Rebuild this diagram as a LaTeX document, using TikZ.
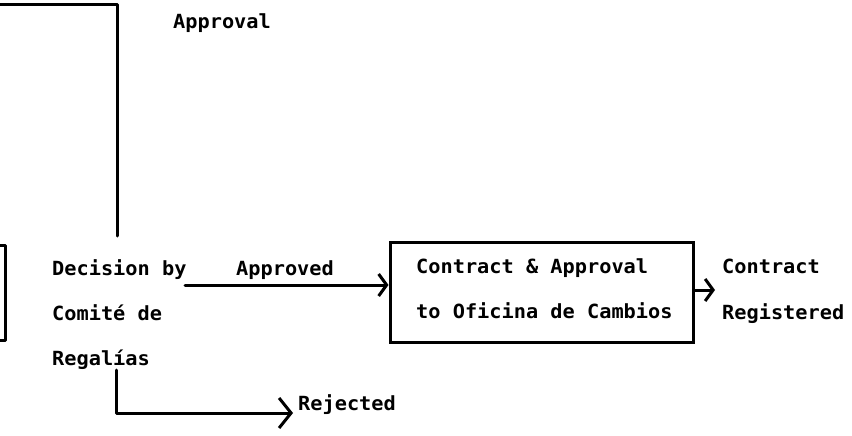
\documentclass[tikz,border=0pt]{standalone}
\usepackage{fontspec}
\setmonofont{DejaVu Sans Mono}[FakeStretch=1.04]
\usetikzlibrary{arrows.meta}
\begin{document}
\begin{tikzpicture}[x=1pt,y=-1pt,
  lbl/.style={font=\ttfamily\bfseries\fontsize{19.5}{22}\selectfont, anchor=base west, inner sep=0pt},
  conn/.style={line width=3pt, line cap=round, line join=round},
  barb/.style={-{Straight Barb[length=8pt,width=22pt,line width=3pt]}},
  boxst/.style={draw, line width=3pt, minimum width=303pt, minimum height=100pt, inner sep=0pt}]
\useasboundingbox (0,0) rectangle (852,436);

% partial box at the left edge
\draw[conn] (0,245) -- (5,245) -- (5,340) -- (0,340);

% decision text
\node[lbl] (dec1) at (52,275) {Decision by};
\node[lbl] (dec2) at (52,320) {Comité de};
\node[lbl] (dec3) at (52,365) {Regalías};

% approval line from top
\node[lbl] (approval) at (173,29) {Approval};
\coordinate (topleft) at (0,5);
\coordinate (topcorner) at (117,5);
\coordinate (dectop) at (117,236);
\draw[conn] (topleft) -- (topcorner) -- (dectop);

% main box
\node[boxst] (box) at (541.5,292) {};
\node[lbl] (box1) at (416,273) {Contract \& Approval};
\node[lbl] (box2) at (416,318) {to Oficina de Cambios};

% approved arrow
\coordinate (appstart) at (185,285);
\node[lbl] (approved) at (236,275) {Approved};
\draw[conn,barb] (appstart) -- (appstart -| box.west);

% output arrow
\coordinate (regtip) at (715,290);
\draw[conn,barb] (box.east |- regtip) -- (regtip);
\node[lbl] (contract) at (722,273) {Contract};
\node[lbl] (registered) at (722,319) {Registered};

% rejected
\coordinate (decbot) at (116,370);
\coordinate (rejtip) at (293,413);
\draw[conn,-{Straight Barb[length=12pt,width=30pt,line width=3pt]}] (decbot) |- (rejtip);
\node[lbl] (rejected) at (298,410) {Rejected};
\end{tikzpicture}
\end{document}
